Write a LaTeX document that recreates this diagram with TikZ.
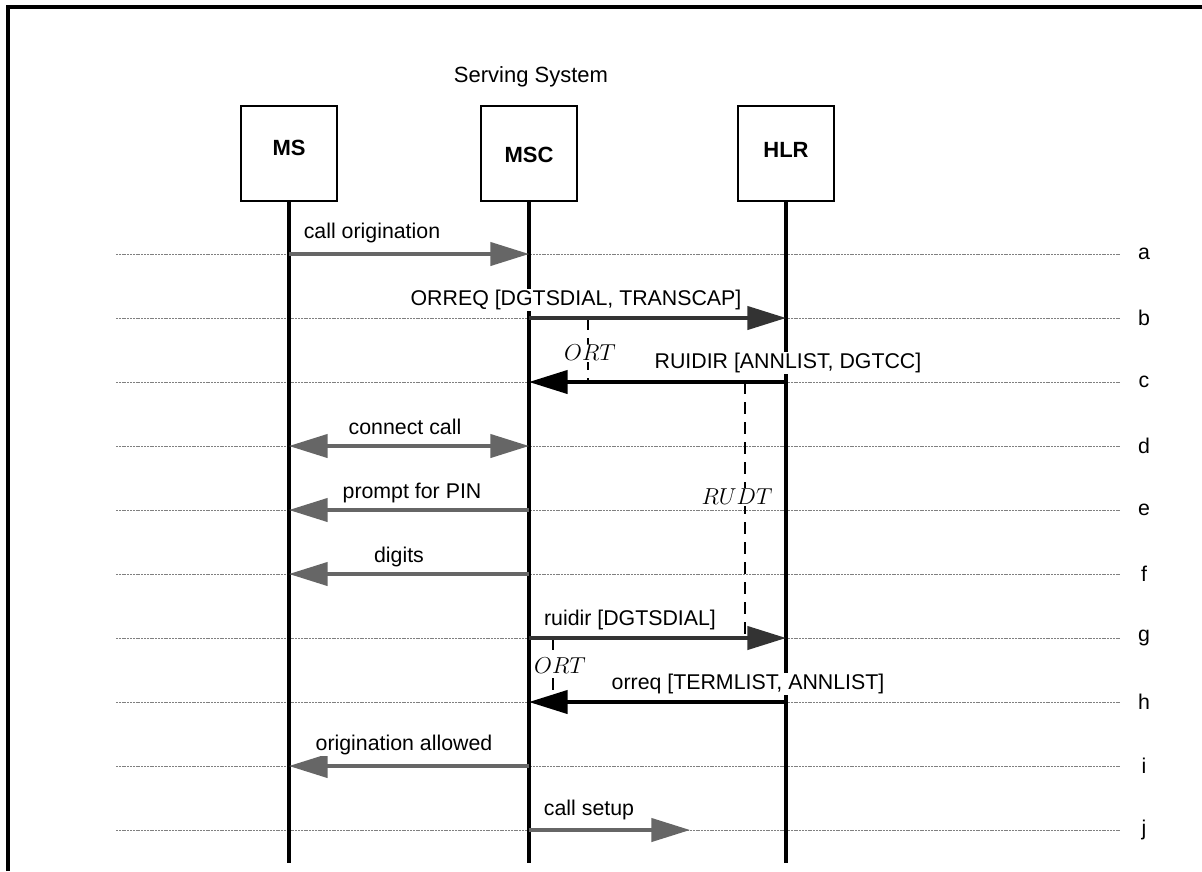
\documentclass[tikz,border=0pt]{standalone}
\usepackage{fontspec}
\setmainfont{Liberation Sans}
\usetikzlibrary{arrows.meta}
\begin{document}
\begin{tikzpicture}[x=0.75pt,y=-0.75pt,
  font=\fontsize{16}{19}\selectfont,
  entity/.style={draw,line width=1.6pt,minimum width=72pt,minimum height=71pt,inner sep=0pt},
  life/.style={line width=2.4pt},
  guide/.style={draw=black!50,line width=0.55pt,dash pattern=on 1.5pt off 0.6pt},
  tip/.style={-{Triangle[length=29pt,width=17.5pt]}},
  graymsg/.style={tip,line width=2.4pt,draw=black!60,fill=black!60},
  darkmsg/.style={tip,line width=2.4pt,draw=black!80,fill=black!80},
  blackmsg/.style={tip,line width=2.4pt,draw=black,fill=black},
  timer/.style={line width=1.5pt,dash pattern=on 9pt off 6pt},
  lbl/.style={fill=white,inner sep=1pt},
  tlbl/.style={fill=white,inner sep=1pt,font=\fontsize{16.5}{18}\selectfont},
  rowlbl/.style={inner sep=0pt},
  boxtxt/.style={inner sep=0pt,font=\fontsize{16.5}{19}\selectfont\bfseries}
]
\useasboundingbox (0,0) rectangle (1202,871);
% frame
\draw[line width=2.5pt] (8,871) -- (8,7) -- (1202,7);

% title
\node (title) at (531,77) {\fontsize{16.5}{19}\selectfont Serving System};

% entities
\node[entity] (ms) at (289,153.5) {};
\node[entity] (msc) at (529,153.5) {};
\node[entity] (hlr) at (786,153.5) {};
\node[boxtxt] (mstxt) at (289,148) {MS};
\node[boxtxt] (msctxt) at (529,155) {MSC};
\node[boxtxt] (hlrtxt) at (786,150) {HLR};

% row coordinates
\coordinate (ya) at (0,254);
\coordinate (yb) at (0,318);
\coordinate (yc) at (0,382);
\coordinate (yd) at (0,446);
\coordinate (ye) at (0,510);
\coordinate (yf) at (0,574);
\coordinate (yg) at (0,638);
\coordinate (yh) at (0,702);
\coordinate (yi) at (0,766);
\coordinate (yj) at (0,830);
\coordinate (gl) at (116,0);
\coordinate (gr) at (1120,0);
\coordinate (bot) at (0,863);

% guide lines and row letters
\foreach \r/\t in {ya/a,yb/b,yc/c,yd/d,ye/e,yf/f,yg/g,yh/h,yi/i,yj/j}{
  \draw[guide] (gl |- \r) -- (gr |- \r);
  \node[rowlbl] (row\t) at ([xshift=18]gr |- \r) {\t};
}

% lifelines
\draw[life] (ms.south) -- (ms.south |- bot);
\draw[life] (msc.south) -- (msc.south |- bot);
\draw[life] (hlr.south) -- (hlr.south |- bot);

% timers
\coordinate (t1) at (588,0);
\coordinate (t2) at (745,0);
\coordinate (t3) at (553,0);
\draw[timer] (t1 |- yb) -- (t1 |- yc);
\draw[timer] (t2 |- yc) -- (t2 |- yg);
\draw[timer] (t3 |- yg) -- (t3 |- yh);

% messages
\draw[graymsg] (ms |- ya) -- (msc |- ya);
\draw[darkmsg] (msc |- yb) -- (hlr |- yb);
\draw[blackmsg] (hlr |- yc) -- (msc |- yc);
\draw[graymsg,{Triangle[length=29pt,width=17.5pt]}-{Triangle[length=29pt,width=17.5pt]}] (ms |- yd) -- (msc |- yd);
\draw[graymsg] (msc |- ye) -- (ms |- ye);
\draw[graymsg] (msc |- yf) -- (ms |- yf);
\draw[darkmsg] (msc |- yg) -- (hlr |- yg);
\draw[blackmsg] (hlr |- yh) -- (msc |- yh);
\draw[graymsg] (msc |- yi) -- (ms |- yi);
\coordinate (jend) at (690,830);
\draw[graymsg] (msc |- yj) -- (jend);

% message labels
\node[lbl] (la) at (372,233) {call origination};
\node[lbl] (lb) at (576,300) {ORREQ [DGTSDIAL, TRANSCAP]};
\node[lbl] (lc) at (788,363) {RUIDIR [ANNLIST, DGTCC]};
\node[lbl] (ld) at (405,427) {connect call};
\node[lbl] (le) at (412,493) {prompt for PIN};
\node[lbl] (lf) at (399,557) {digits};
\node[lbl] (lg) at (630,620) {ruidir [DGTSDIAL]};
\node[lbl] (lh) at (748,684) {orreq [TERMLIST, ANNLIST]};
\node[lbl] (li) at (404,745) {origination allowed};
\node[lbl] (lj) at (589,810) {call setup};

% timer labels
\node[tlbl] (ort1) at (590,353) {$ORT$};
\node[tlbl] (rudt) at (737,497) {$RUDT$};
\node[tlbl] (ort2) at (560,666) {$ORT$};
\end{tikzpicture}
\end{document}
